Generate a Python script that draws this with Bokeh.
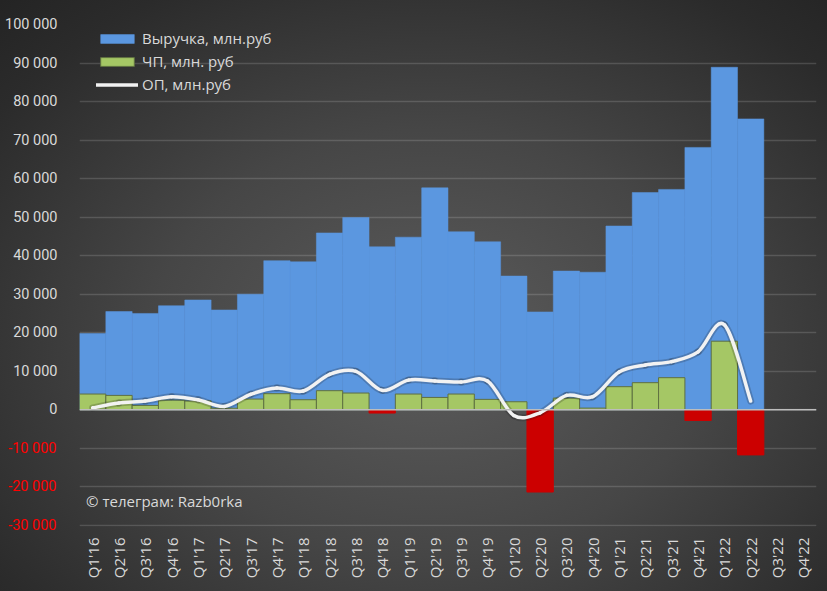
from bokeh.plotting import figure
from bokeh.models import (FactorRange, Range1d, FixedTicker, Span, Label, Legend, LinearAxis,
                          LegendItem, ColumnDataSource, GlobalInlineStyleSheet)
from bokeh.embed import file_html
from bokeh.resources import INLINE
import math

# ---------------- data ----------------
quarters = ["Q1'16", "Q2'16", "Q3'16", "Q4'16", "Q1'17", "Q2'17", "Q3'17", "Q4'17",
            "Q1'18", "Q2'18", "Q3'18", "Q4'18", "Q1'19", "Q2'19", "Q3'19", "Q4'19",
            "Q1'20", "Q2'20", "Q3'20", "Q4'20", "Q1'21", "Q2'21", "Q3'21", "Q4'21",
            "Q1'22", "Q2'22", "Q3'22", "Q4'22"]

revenue = [19800, 25500, 25000, 27000, 28500, 25900, 30000, 38700,
           38400, 45900, 49900, 42300, 44800, 57600, 46200, 43600,
           34700, 25400, 36000, 35700, 47700, 56400, 57200, 68100,
           88900, 75500]

net_profit = [4080, 3730, 1130, 2500, 2300, 400, 2780, 4170,
              2600, 4950, 4340, -850, 4080, 3200, 4080, 2700,
              2080, -21350, 3040, 430, 5990, 7030, 8330, -2780,
              17800, -11720]

op_profit = [500, 1740, 2260, 3390, 2600, 870, 4000, 5640,
             4860, 9200, 9980, 5030, 7700, 7470, 7200, 7470,
             -1480, -780, 3730, 3390, 9800, 11630, 12500, 15020,
             22050, 2260]

y_ticks = [-30000, -20000, -10000, 0, 10000, 20000, 30000, 40000, 50000,
           60000, 70000, 80000, 90000, 100000]
y_tick_labels = ["-30 000", "-20 000", "-10 000", "0", "10 000", "20 000", "30 000",
                 "40 000", "50 000", "60 000", "70 000", "80 000", "90 000", "100 000"]

legend_labels = ["Выручка, млн.руб", "ЧП, млн. руб", "ОП, млн.руб"]
watermark = "© телеграм: Razb0rka"

# ---------------- styles ----------------
FONT = "Open Sans"
YFONT = "Roboto"
TXT = "#d9d9d9"
BLUE = "#5b97e0"
GREEN = "#a5c765"
GREEN_EDGE = "#5f7040"
RED = "#cc0000"

n = len(revenue)
src = ColumnDataSource(dict(
    q=quarters[:n],
    rev=revenue,
    np=net_profit,
    npc=[GREEN if v >= 0 else RED for v in net_profit],
    npl=[GREEN_EDGE if v >= 0 else RED for v in net_profit],
))

p = figure(width=827, height=591,
           x_range=FactorRange(factors=quarters, range_padding=0),
           y_range=Range1d(-30300, 100000),
           output_backend="svg", toolbar_location=None,
           min_border_left=79, min_border_right=11, min_border_top=24, min_border_bottom=65,
           background_fill_alpha=0, border_fill_alpha=0, outline_line_color=None)

p.styles = {"background": "radial-gradient(ellipse 75% 80% at 52% 58%, #5c5c5c 0%, #464646 45%, #2b2b2b 85%, #242424 100%)"}
p.stylesheets = [GlobalInlineStyleSheet(css="html, body { margin: 0; padding: 0; background: #262626; overflow: hidden; }")]

# grid
p.xgrid.grid_line_color = None
p.ygrid.ticker = FixedTicker(ticks=y_ticks)
p.ygrid.grid_line_color = "white"
p.ygrid.grid_line_alpha = 0.15
p.ygrid.grid_line_width = 1.6

# bars
r_rev = p.vbar(x="q", top="rev", width=1.0, source=src,
               fill_color=BLUE, line_color=BLUE, line_width=0.5)
r_np = p.vbar(x="q", top="np", bottom=0, width=1.0, source=src,
              fill_color="npc", line_color="npl", line_width=1)

# zero line
p.add_layout(Span(location=0, dimension="width", line_color="#bdbdbd", line_width=1.6))

# smoothed operating profit line (Bezier segments through the data points)
xs = [i + 0.5 for i in range(len(op_profit))]
ys = op_profit
x0, y0, x1, y1, cx0, cy0, cx1, cy1 = [], [], [], [], [], [], [], []
m = len(ys)
for i in range(m - 1):
    a = max(i - 1, 0)
    b = min(i + 2, m - 1)
    x0.append(xs[i]); y0.append(ys[i])
    x1.append(xs[i + 1]); y1.append(ys[i + 1])
    cx0.append(xs[i] + (xs[i + 1] - xs[a]) / 6.0)
    cy0.append(ys[i] + (ys[i + 1] - ys[a]) / 6.0)
    cx1.append(xs[i + 1] - (xs[b] - xs[i]) / 6.0)
    cy1.append(ys[i + 1] - (ys[b] - ys[i]) / 6.0)
bz = ColumnDataSource(dict(x0=x0, y0=y0, x1=x1, y1=y1, cx0=cx0, cy0=cy0, cx1=cx1, cy1=cy1))
# soft dark halo (shadow) under the white line
p.bezier(x0="x0", y0="y0", x1="x1", y1="y1", cx0="cx0", cy0="cy0", cx1="cx1", cy1="cy1",
         source=bz, line_color="#1a1a1a", line_alpha=0.22, line_width=7, line_cap="round")
p.bezier(x0="x0", y0="y0", x1="x1", y1="y1", cx0="cx0", cy0="cy0", cx1="cx1", cy1="cy1",
         source=bz, line_color="#f2f2f2", line_width=3.5, line_cap="round")
# single-point line: draws nothing in the plot, used only as the legend glyph
r_line_leg = p.line(x=[xs[0]], y=[op_profit[0]], line_color="#f2f2f2", line_width=3.5, line_cap="round")

# axes
p.xaxis.axis_line_color = None
p.xaxis.major_tick_line_color = None
p.xaxis.minor_tick_line_color = None
p.xaxis.major_tick_out = 0
p.xaxis.major_label_orientation = math.pi / 2
p.xaxis.major_label_standoff = 11
p.xaxis.major_label_text_color = TXT
p.xaxis.major_label_text_font = FONT
p.xaxis.major_label_text_font_size = "15px"

pos_ticks = [t for t in y_ticks if t >= 0]
neg_ticks = [t for t in y_ticks if t < 0]


def style_y(ax, color, standoff):
    ax.axis_line_color = None
    ax.major_tick_line_color = None
    ax.minor_tick_line_color = None
    ax.major_tick_in = 0
    ax.major_tick_out = 0
    ax.minor_tick_in = 0
    ax.minor_tick_out = 0
    ax.major_label_standoff = standoff
    ax.major_label_text_color = color
    ax.major_label_text_font = YFONT
    ax.major_label_text_font_size = "14.5px"
    ax.major_label_overrides = {t: lbl for t, lbl in zip(y_ticks, y_tick_labels)}


# inner axis: non-negative labels
yax = p.yaxis[0]
yax.ticker = FixedTicker(ticks=pos_ticks)
style_y(yax, TXT, 22)

# outer axis: negative labels in red, pulled back (negative standoff) to line up with the inner ones
neg_axis = LinearAxis(ticker=FixedTicker(ticks=neg_ticks))
style_y(neg_axis, "#ff0000", -54)
p.add_layout(neg_axis, "left")

# watermark
p.add_layout(Label(x=0.25, y=-23800, text=watermark, text_align="left", text_baseline="middle",
                   text_color=TXT, text_font=FONT, text_font_size="15px"))

# legend
legend = Legend(items=[LegendItem(label=legend_labels[0], renderers=[r_rev]),
                       LegendItem(label=legend_labels[1], renderers=[r_np], index=0),
                       LegendItem(label=legend_labels[2], renderers=[r_line_leg])],
                location=(17, 432), padding=0, margin=0, spacing=3,
                glyph_width=42, glyph_height=11, label_height=20, label_standoff=4,
                label_text_color=TXT, label_text_font=FONT, label_text_font_size="15px",
                background_fill_alpha=0, border_line_alpha=0)
p.add_layout(legend)

open("out.html", "w").write(file_html(p, INLINE))
